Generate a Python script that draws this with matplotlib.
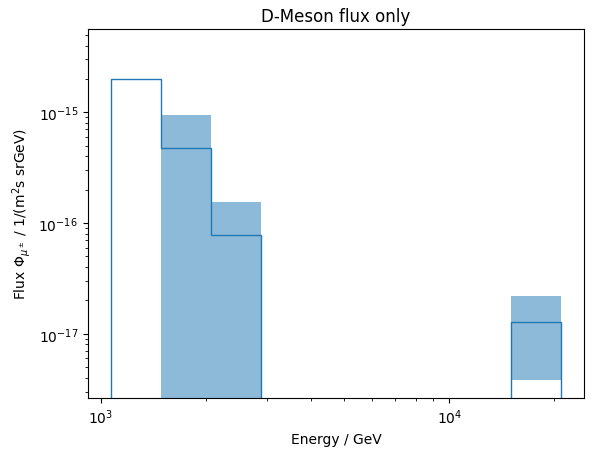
import numpy as np
import matplotlib
matplotlib.use('Agg')
import matplotlib.pyplot as plt

# bin edges in GeV (log-spaced)
edges = [1068, 1487, 2070, 2881, 4010, 5581, 7768, 10812, 15050, 20950]
# flux per bin
flux = [2.0e-15, 4.75e-16, 7.8e-17, 0, 0, 0, 0, 0, 1.28e-17]
# error band (lower / upper)
flux_lo = [np.nan, 0, 0, np.nan, np.nan, np.nan, np.nan, np.nan, 3.8e-18]
flux_hi = [np.nan, 9.45e-16, 1.55e-16, np.nan, np.nan, np.nan, np.nan, np.nan, 2.17e-17]

edges = np.array(edges, dtype=float)
flux_lo = np.array(flux_lo)
flux_hi = np.array(flux_hi)

fig, ax = plt.subplots(figsize=(5.93, 4.6), dpi=100)
fig.subplots_adjust(left=0.148, right=0.985, bottom=0.133, top=0.935)

ax.stairs(flux, edges, color='tab:blue', linewidth=1)

mask = ~np.isnan(flux_hi)
lo = np.where(flux_lo > 0, flux_lo, 1e-30)
ax.bar(edges[:-1][mask], (flux_hi - lo)[mask], bottom=lo[mask],
       width=np.diff(edges)[mask], align='edge', color='tab:blue', alpha=0.5, linewidth=0)

ax.set_xscale('log')
ax.set_yscale('log')
ax.set_xlim(919, 24350)
ax.set_ylim(2.64e-18, 5.65e-15)

ax.set_xlabel('Energy / GeV')
ax.set_ylabel(r'Flux $\Phi_{\mu^\pm}$ / 1/(m$^2$s srGeV)')
ax.set_title('D-Meson flux only')

plt.savefig('out.png', dpi=100)
